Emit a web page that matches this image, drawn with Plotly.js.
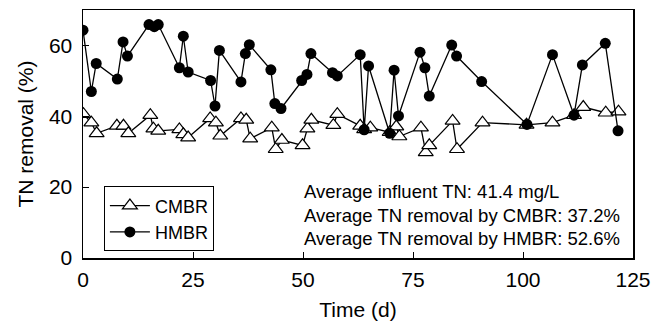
<!DOCTYPE html>
<html>
<head>
<meta charset="utf-8">
<script src="https://cdn.plot.ly/plotly-3.0.1.min.js"></script>
<style>html,body{margin:0;padding:0;background:#fff;}#chart{width:662px;height:321px;}</style>
</head>
<body>
<div id="chart"></div>
<script>
// Time (d) and TN removal (%)
const cmbrDays = [0.1, 1.9, 3.1, 7.7, 9.2, 10.3, 15.3, 16.0, 17.1, 21.9, 22.8, 23.9, 28.9, 30.2, 31.2, 35.9, 37.1, 38.0, 42.9, 43.8, 45.2, 49.9, 51.0, 51.9, 56.9, 57.8, 63.0, 63.9, 65.3, 69.7, 71.2, 71.9, 76.8, 77.9, 78.7, 84.0, 85.0, 90.8, 100.8, 106.7, 111.6, 113.7, 118.8, 121.7];
const cmbrRemoval = [40.6, 38.2, 35.2, 37.3, 37.3, 35.2, 40.3, 36.5, 35.9, 36.3, 34.9, 34.0, 39.4, 38.2, 34.5, 39.4, 39.0, 33.7, 36.8, 30.7, 33.3, 31.8, 36.5, 39.0, 37.5, 40.6, 37.3, 36.3, 36.8, 35.5, 37.1, 34.3, 36.8, 29.8, 31.8, 38.7, 30.7, 38.2, 37.6, 38.2, 40.3, 42.6, 41.0, 41.3];

const hmbrDays = [0.0, 1.9, 3.0, 7.8, 9.1, 10.1, 15.0, 16.2, 17.1, 21.9, 22.8, 23.9, 29.0, 30.0, 31.0, 35.9, 36.9, 37.8, 42.7, 43.6, 45.0, 49.7, 50.9, 51.8, 56.7, 57.8, 63.0, 63.9, 64.9, 69.7, 70.7, 71.7, 76.6, 77.7, 78.7, 83.8, 84.9, 90.6, 100.9, 106.7, 111.6, 113.5, 118.7, 121.6];
const hmbrRemoval = [64.3, 47.0, 54.9, 50.5, 61.0, 57.0, 65.9, 65.3, 65.9, 53.7, 62.6, 52.5, 50.1, 42.9, 58.6, 49.7, 57.7, 60.2, 53.1, 43.6, 42.2, 50.1, 51.8, 57.7, 52.3, 51.4, 57.4, 36.2, 54.2, 35.2, 53.0, 40.1, 58.1, 53.7, 45.7, 60.1, 57.0, 49.8, 37.7, 57.4, 40.3, 54.5, 60.6, 35.9];

const seriesNames = ["CMBR", "HMBR"];
const xTicks = [0, 25, 50, 75, 100, 125];
const yTicks = [0, 20, 40, 60];
const notes = ["Average influent TN: 41.4 mg/L", "Average TN removal by CMBR: 37.2%", "Average TN removal by HMBR: 52.6%"];

const FONT = "'Liberation Sans', Arial, Helvetica, sans-serif";

const traces = [
  {
    x: cmbrDays, y: cmbrRemoval, name: seriesNames[0], type: "scatter", mode: "lines+markers",
    line: {color: "#000", width: 1.3},
    marker: {symbol: "triangle-up", size: 13, color: "#fff", line: {color: "#000", width: 1.2}}
  },
  {
    x: hmbrDays, y: hmbrRemoval, name: seriesNames[1], type: "scatter", mode: "lines+markers",
    line: {color: "#000", width: 1.3},
    marker: {symbol: "circle", size: 11, color: "#000", line: {color: "#000", width: 0}}
  }
];

const noteY = [18.7, 12.0, 5.5];
const annotations = notes.map((t, i) => ({
  text: t, xref: "x", yref: "y", x: 49.7, y: noteY[i], xanchor: "left", yanchor: "middle",
  showarrow: false, font: {family: FONT, size: 18.5, color: "#000"}
}));

const layout = {
  width: 662, height: 321,
  margin: {l: 83, r: 29, t: 10, b: 63},
  paper_bgcolor: "#fff", plot_bgcolor: "#fff",
  font: {family: FONT, color: "#000", size: 21},
  showlegend: true,
  legend: {
    x: 0.038, y: 0.289, xanchor: "left", yanchor: "top",
    bgcolor: "#fff", bordercolor: "#000", borderwidth: 1,
    font: {family: FONT, size: 18, color: "#000"},
    itemwidth: 40,
    tracegroupgap: 0
  },
  xaxis: {
    range: [0, 125], tickvals: xTicks, ticktext: xTicks.map(String),
    ticks: "inside", ticklen: 6, tickwidth: 1, tickcolor: "#000",
    ticklabelstandoff: 2,
    showline: true, linecolor: "#000", linewidth: 1.5, mirror: true,
    showgrid: false, zeroline: false,
    tickfont: {family: FONT, size: 21, color: "#000"},
    title: {text: "Time (d)", font: {family: FONT, size: 21, color: "#000"}, standoff: 12}
  },
  yaxis: {
    range: [0, 70], tickvals: yTicks, ticktext: yTicks.map(String),
    ticks: "inside", ticklen: 6, tickwidth: 1, tickcolor: "#000",
    ticklabelstandoff: 5,
    showline: true, linecolor: "#000", linewidth: 1.5, mirror: true,
    showgrid: false, zeroline: false,
    tickfont: {family: FONT, size: 21, color: "#000"},
    title: {text: "TN removal (%)", font: {family: FONT, size: 21, color: "#000"}, standoff: 9}
  },
  annotations: annotations
};

Plotly.newPlot("chart", traces, layout, {displayModeBar: false, staticPlot: true});
</script>
</body>
</html>
